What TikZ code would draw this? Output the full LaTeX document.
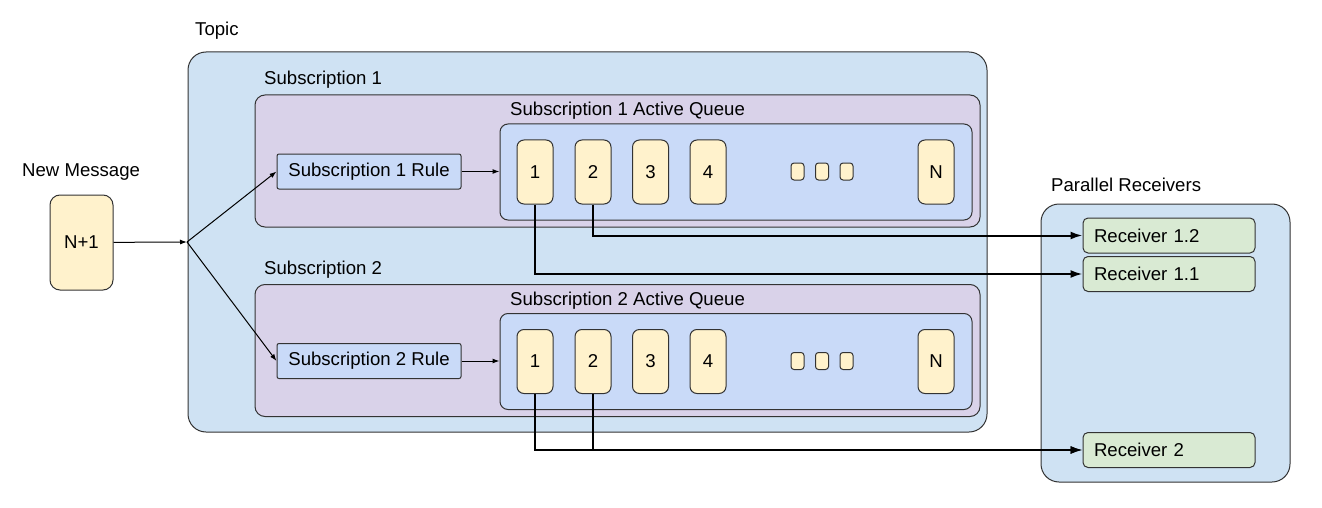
\documentclass[tikz,border=0pt]{standalone}
\usepackage{fontspec}
\setmainfont{Liberation Sans}
\usetikzlibrary{arrows.meta, positioning}

\begin{document}
\begin{tikzpicture}[
    x=1pt, y=-1pt,
    font=\fontsize{18.6}{20}\selectfont,
    >={Latex[length=7pt,width=5pt]},
    box/.style={draw=black!80, line width=1pt, rectangle, inner sep=0pt},
    container/.style={box, rounded corners=#1},
    container/.default=10pt,
    msg/.style={box, fill=msgColor, rounded corners=7pt, minimum width=36pt, minimum height=64pt},
    dotbox/.style={box, fill=msgColor, rounded corners=3pt, minimum width=13pt, minimum height=17pt},
    rulebox/.style={box, fill=queueColor, rounded corners=2pt, minimum width=184pt, minimum height=35pt},
    receiver/.style={box, fill=recvColor, rounded corners=5pt, minimum width=172pt, minimum height=35pt, text width=150pt, align=left},
    title/.style={anchor=west, inner sep=0pt},
    flow/.style={->, line width=1pt},
    delivery/.style={-{Latex[length=12pt,width=8pt]}, line width=2pt}
]

    % Define colors
    \definecolor{topicColor}{HTML}{CFE2F3}
    \definecolor{subColor}{HTML}{D9D2E9}
    \definecolor{queueColor}{HTML}{C9DAF8}
    \definecolor{msgColor}{HTML}{FFF2CC}
    \definecolor{recvColor}{HTML}{D9EAD3}

    \useasboundingbox (0,0) rectangle (1322,508);

    % 1. New message
    \node[title] at (22, 172) {New Message};
    \node[box, fill=msgColor, rounded corners=10pt, minimum width=63pt, minimum height=95pt] (newmsg) at (81.5, 242.5) {N+1};

    % 2. Topic
    \node[title] at (195, 31) {Topic};
    \node[container=18pt, fill=topicColor, minimum width=799pt, minimum height=380pt] (topic) at (587.5, 242) {};
    \coordinate (split) at (187, 242);
    \draw[flow] (newmsg) -- (split);

    % 3. Subscriptions (rule + active queue)
    \foreach \s/\dy in {1/0, 2/189.5} {
        \node[container, fill=subColor, minimum width=725pt, minimum height=132pt] (sub\s) at (617.5, 161+\dy) {};
        \node[title] at (264, 80+\dy) {Subscription \s};

        % Rule
        \node[rulebox] (rule\s) at (369, 171.5+\dy) {Subscription \s\ Rule};
        \draw[flow] (split) -- (rule\s.west);

        % Active queue
        \node[container=8pt, fill=queueColor, minimum width=472pt, minimum height=96pt] (queue\s) at (736, 172+\dy) {};
        \node[title] at (510, 111+\dy) {Subscription \s\ Active Queue};
        \draw[flow] (rule\s.east) -- (rule\s.east -| queue\s.west);

        % Messages
        \foreach \m/\x in {1/535, 2/593, 3/650.5, 4/708}
            \node[msg] (q\s-\m) at (\x, 172+\dy) {\m};
        \foreach \x in {797.5, 822, 846.5}
            \node[dotbox] at (\x, 171.5+\dy) {};
        \node[msg] (q\s-N) at (936, 172+\dy) {N};
    }

    % 4. Parallel receivers
    \node[title] at (1051, 185) {Parallel Receivers};
    \node[container=18pt, fill=topicColor, minimum width=249pt, minimum height=278pt] (receivers) at (1165.5, 343) {};
    \node[receiver] (r12) at (1169, 235.5) {Receiver 1.2};
    \node[receiver] (r11) at (1169, 274) {Receiver 1.1};
    \node[receiver] (r2) at (1169, 450) {Receiver 2};

    % 5. Deliveries
    \draw[delivery] (q1-2.south) |- (r12.west);
    \draw[delivery] (q1-1.south) |- (r11.west);
    \draw[delivery] (q2-1.south) |- (r2.west);
    \draw[delivery] (q2-2.south) |- (r2.west);

\end{tikzpicture}
\end{document}
